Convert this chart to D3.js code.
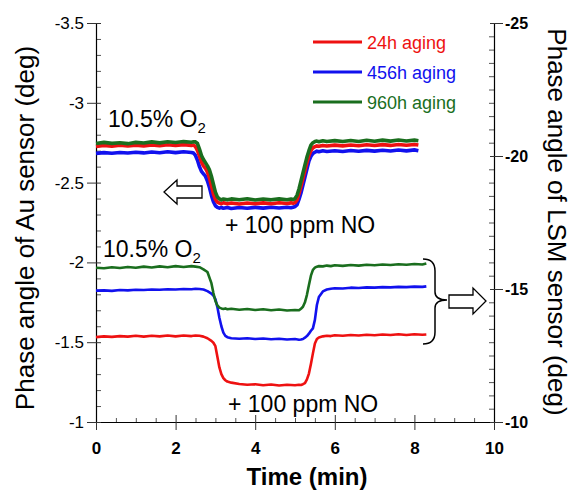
<!DOCTYPE html>
<html><head><meta charset="utf-8">
<script src="https://cdn.jsdelivr.net/npm/d3@7"></script>
<style>body{margin:0;background:#fff}svg{display:block}</style>
</head><body>
<script>
// ---- data ----
const timeAu = [0,0.2,0.4,0.6,0.8,1.0,1.2,1.4,1.6,1.8,2.0,2.2,2.4,
  2.45,2.5,2.55,2.6,2.65,2.7,2.75,2.8,2.85,2.9,2.95,3.0,3.05,3.1,3.15,3.2,3.3,3.4,
  3.6,3.8,4.0,4.2,4.4,4.6,4.8,
  4.9,4.95,5.0,5.05,5.1,5.15,5.2,5.25,5.3,5.35,5.4,5.45,5.5,5.55,5.6,5.7,5.8,
  6.0,6.2,6.4,6.6,6.8,7.0,7.2,7.4,7.6,7.8,8.0,8.1];
const au24h = [-2.727,-2.733,-2.728,-2.734,-2.729,-2.735,-2.73,-2.736,-2.731,-2.737,-2.732,-2.738,-2.733,
  -2.735,-2.725,-2.70,-2.665,-2.63,-2.605,-2.59,-2.565,-2.53,-2.48,-2.43,-2.395,-2.378,-2.372,-2.368,-2.373,-2.367,-2.372,
  -2.366,-2.372,-2.367,-2.373,-2.368,-2.374,-2.369,
  -2.373,-2.37,-2.375,-2.39,-2.43,-2.475,-2.525,-2.575,-2.625,-2.67,-2.70,-2.718,-2.725,-2.73,-2.727,-2.733,-2.729,
  -2.735,-2.73,-2.736,-2.731,-2.737,-2.732,-2.738,-2.733,-2.739,-2.734,-2.739,-2.735];
const au456h = [-2.683,-2.688,-2.684,-2.689,-2.685,-2.69,-2.686,-2.692,-2.687,-2.693,-2.688,-2.693,-2.689,
  -2.685,-2.67,-2.64,-2.60,-2.57,-2.555,-2.54,-2.51,-2.47,-2.42,-2.38,-2.355,-2.345,-2.34,-2.345,-2.339,-2.344,-2.338,
  -2.344,-2.339,-2.345,-2.34,-2.346,-2.341,-2.346,
  -2.342,-2.345,-2.35,-2.36,-2.395,-2.435,-2.485,-2.535,-2.585,-2.635,-2.665,-2.683,-2.69,-2.697,-2.693,-2.699,-2.695,
  -2.70,-2.695,-2.701,-2.696,-2.702,-2.697,-2.703,-2.698,-2.704,-2.699,-2.705,-2.70];
const au960h = [-2.745,-2.752,-2.746,-2.750,-2.744,-2.752,-2.748,-2.755,-2.749,-2.756,-2.751,-2.757,-2.753,
  -2.756,-2.755,-2.745,-2.71,-2.67,-2.645,-2.625,-2.605,-2.58,-2.54,-2.49,-2.44,-2.41,-2.398,-2.392,-2.397,-2.392,-2.398,
  -2.393,-2.399,-2.391,-2.397,-2.392,-2.398,-2.393,
  -2.397,-2.394,-2.40,-2.42,-2.46,-2.51,-2.56,-2.61,-2.66,-2.70,-2.735,-2.75,-2.757,-2.76,-2.756,-2.762,-2.757,
  -2.763,-2.757,-2.764,-2.758,-2.765,-2.759,-2.766,-2.76,-2.767,-2.761,-2.766,-2.762];

const timeLSM = [0,0.2,0.4,0.6,0.8,1.0,1.2,1.4,1.6,1.8,2.0,2.2,2.4,
  2.5,2.6,2.7,2.8,2.9,2.95,3.0,3.05,3.1,3.15,3.2,3.25,3.3,3.4,
  3.6,3.8,4.0,4.2,4.4,4.6,4.8,
  5.0,5.1,5.15,5.2,5.25,5.3,5.35,5.4,5.45,5.5,5.55,5.6,5.7,5.8,5.9,
  6.0,6.2,6.4,6.6,6.8,7.0,7.2,7.4,7.6,7.8,8.0,8.2,8.3];
const lsm24h = [-13.19,-13.22,-13.20,-13.23,-13.21,-13.24,-13.21,-13.24,-13.22,-13.25,-13.22,-13.25,-13.23,
  -13.25,-13.24,-13.21,-13.15,-13.05,-12.98,-12.85,-12.45,-12.05,-11.80,-11.65,-11.57,-11.52,-11.48,
  -11.43,-11.40,-11.42,-11.38,-11.41,-11.37,-11.40,
  -11.38,-11.40,-11.39,-11.42,-11.46,-11.60,-11.82,-12.18,-12.58,-12.95,-13.12,-13.18,-13.22,-13.24,-13.23,
  -13.26,-13.24,-13.27,-13.25,-13.28,-13.26,-13.29,-13.27,-13.30,-13.27,-13.30,-13.28,-13.29];
const lsm456h = [-14.94,-14.95,-14.93,-14.96,-14.95,-14.97,-14.96,-14.98,-14.97,-14.99,-14.98,-15.00,-14.99,
  -15.01,-15.00,-14.98,-14.92,-14.83,-14.75,-14.62,-14.32,-13.92,-13.60,-13.36,-13.24,-13.19,-13.15,
  -13.13,-13.15,-13.12,-13.14,-13.11,-13.13,-13.10,
  -13.12,-13.09,-13.10,-13.12,-13.17,-13.23,-13.32,-13.43,-13.52,-13.84,-14.40,-14.70,-14.91,-14.98,-15.01,
  -15.03,-15.02,-15.05,-15.04,-15.06,-15.05,-15.07,-15.06,-15.08,-15.07,-15.09,-15.08,-15.10];
const lsm960h = [-15.80,-15.78,-15.82,-15.79,-15.83,-15.80,-15.84,-15.81,-15.85,-15.82,-15.86,-15.83,-15.86,
  -15.84,-15.82,-15.74,-15.64,-15.22,-14.85,-14.55,-14.38,-14.30,-14.27,-14.25,-14.27,-14.24,-14.26,
  -14.22,-14.25,-14.21,-14.24,-14.20,-14.23,-14.19,
  -14.21,-14.20,-14.26,-14.33,-14.50,-14.78,-15.15,-15.50,-15.72,-15.80,-15.84,-15.86,-15.85,-15.88,-15.86,
  -15.89,-15.87,-15.90,-15.88,-15.91,-15.89,-15.92,-15.90,-15.93,-15.91,-15.94,-15.92,-15.96];

const seriesNames = ["24h aging","456h aging","960h aging"];
const seriesColors = ["#ee1111","#1111ee","#1a6e1e"];
const xTicks = [0,2,4,6,8,10];
const leftTicks = [-3.5,-3,-2.5,-2,-1.5,-1];
const rightTicks = [-25,-20,-15,-10];

// ---- chart ----
const W = 576, H = 492;
const FONT = "'Liberation Sans', Arial, sans-serif";
const svg = d3.select("body").append("svg").attr("width", W).attr("height", H)
  .style("font-family", FONT);

const x = d3.scaleLinear().domain([0, 10]).range([96, 494]);
const yL = d3.scaleLinear().domain([-3.5, -1]).range([23, 422]);
const yR = d3.scaleLinear().domain([-25, -10]).range([23, 422]);

function styleAxis(g) {
  g.attr("font-family", FONT);
  g.select(".domain").attr("stroke", "#000").attr("stroke-width", 1.2);
}

// minor ticks
const near = (v, arr) => arr.some(a => Math.abs(a - v) < 1e-6);
svg.append("g").attr("transform", "translate(0,422)")
  .call(d3.axisBottom(x).tickValues(d3.range(0, 10.01, 0.5).filter(v => !near(v, xTicks))).tickSize(-4).tickFormat(""))
  .call(g => { g.select(".domain").remove(); g.selectAll("line").attr("stroke", "#555"); });
svg.append("g").attr("transform", "translate(96,0)")
  .call(d3.axisLeft(yL).tickValues(d3.range(-3.5, -0.99, 0.1).filter(v => !near(v, leftTicks))).tickSize(-5).tickFormat(""))
  .call(g => { g.select(".domain").remove(); g.selectAll("line").attr("stroke", "#555"); });
svg.append("g").attr("transform", "translate(494,0)")
  .call(d3.axisRight(yR).tickValues(d3.range(-25, -9.99, 0.5).filter(v => !near(v, rightTicks))).tickSize(-5).tickFormat(""))
  .call(g => { g.select(".domain").remove(); g.selectAll("line").attr("stroke", "#555"); });

// major axes
svg.append("g").attr("transform", "translate(0,422)")
  .call(d3.axisBottom(x).tickValues(xTicks).tickSize(8).tickSizeOuter(0).tickFormat(d3.format("d")))
  .call(styleAxis)
  .call(g => {
    g.selectAll(".tick line").attr("y1", -7).attr("stroke", "#333");
    g.selectAll(".tick text").attr("y", 20).attr("font-size", 17).attr("font-weight", "bold").attr("fill", "#000");
  });
svg.append("g").attr("transform", "translate(96,0)")
  .call(d3.axisLeft(yL).tickValues(leftTicks).tickSize(9).tickSizeOuter(0).tickFormat(d => String(d).replace("-", "-")))
  .call(styleAxis)
  .call(g => {
    g.selectAll(".tick line").attr("x1", 5).attr("stroke", "#333");
    g.selectAll(".tick text").attr("x", -12).attr("font-size", 17).attr("fill", "#000");
  });
svg.append("g").attr("transform", "translate(494,0)")
  .call(d3.axisRight(yR).tickValues(rightTicks).tickSize(9).tickSizeOuter(0).tickFormat(d => String(d)))
  .call(styleAxis)
  .call(g => {
    g.selectAll(".tick line").attr("x1", -4).attr("stroke", "#333");
    g.selectAll(".tick text").attr("x", 11).attr("font-size", 16).attr("font-weight", "bold").attr("fill", "#000");
  });

// data lines
const auSeries = [au24h, au456h, au960h];
const lsmSeries = [lsm24h, lsm456h, lsm960h];
const lineAu = d3.line().x(d => x(d[0])).y(d => yL(d[1]));
const lineLSM = d3.line().x(d => x(d[0])).y(d => yR(d[1]));
const order = [1, 0, 2];
svg.append("g").selectAll("path").data(order).join("path")
  .attr("d", i => lineAu(timeAu.map((t, k) => [t, auSeries[i][k]])))
  .attr("fill", "none").attr("stroke", i => seriesColors[i]).attr("stroke-width", 3.6)
  .attr("stroke-linejoin", "round");
svg.append("g").selectAll("path").data(order).join("path")
  .attr("d", i => lineLSM(timeLSM.map((t, k) => [t, lsmSeries[i][k]])))
  .attr("fill", "none").attr("stroke", i => seriesColors[i]).attr("stroke-width", 2.6)
  .attr("stroke-linejoin", "round");

// legend
const lg = svg.append("g").selectAll("g").data(seriesNames).join("g")
  .attr("transform", (d, i) => `translate(313,${42 + i * 30})`);
lg.append("line").attr("x1", 0).attr("x2", 49).attr("stroke", (d, i) => seriesColors[i]).attr("stroke-width", 3);
lg.append("text").attr("x", 54).attr("y", 6.5).attr("font-size", 18).attr("fill", (d, i) => seriesColors[i]).text(d => d);

// annotations
function o2(xp, yp) {
  const t = svg.append("text").attr("x", xp).attr("y", yp).attr("font-size", 23).attr("fill", "#000");
  t.append("tspan").text("10.5% O");
  t.append("tspan").attr("font-size", 15).attr("dy", 6).text("2");
}
o2(108, 127);
o2(103, 257);
svg.append("text").attr("x", 225).attr("y", 233).attr("font-size", 23).text("+ 100 ppm NO");
svg.append("text").attr("x", 228).attr("y", 412).attr("font-size", 23).text("+ 100 ppm NO");

// left hollow arrow
svg.append("path")
  .attr("d", "M164,192 L177,180 L177,186 L202,186 L202,198 L177,198 L177,204 Z")
  .attr("fill", "#fff").attr("stroke", "#000").attr("stroke-width", 1.3);
// bracket
svg.append("path")
  .attr("d", "M423,259 Q435,259 435,271 L435,292 Q435,300 447,300 Q435,300 435,308 L435,332 Q435,344 423,344")
  .attr("fill", "none").attr("stroke", "#000").attr("stroke-width", 1.5);
// right hollow arrow
svg.append("path")
  .attr("d", "M449,295 L473,295 L473,288 L486,301 L473,314 L473,308 L449,308 Z")
  .attr("fill", "#fff").attr("stroke", "#000").attr("stroke-width", 1.3);

// axis titles
svg.append("text").attr("transform", "translate(34,228) rotate(-90)")
  .attr("text-anchor", "middle").attr("font-size", 26).text("Phase angle of Au sensor (deg)");
svg.append("text").attr("transform", "translate(548,222) rotate(90)")
  .attr("text-anchor", "middle").attr("font-size", 26).text("Phase angle of LSM sensor (deg)");
svg.append("text").attr("x", 307).attr("y", 485).attr("text-anchor", "middle")
  .attr("font-size", 24).attr("font-weight", "bold").text("Time (min)");
</script>
</body></html>
